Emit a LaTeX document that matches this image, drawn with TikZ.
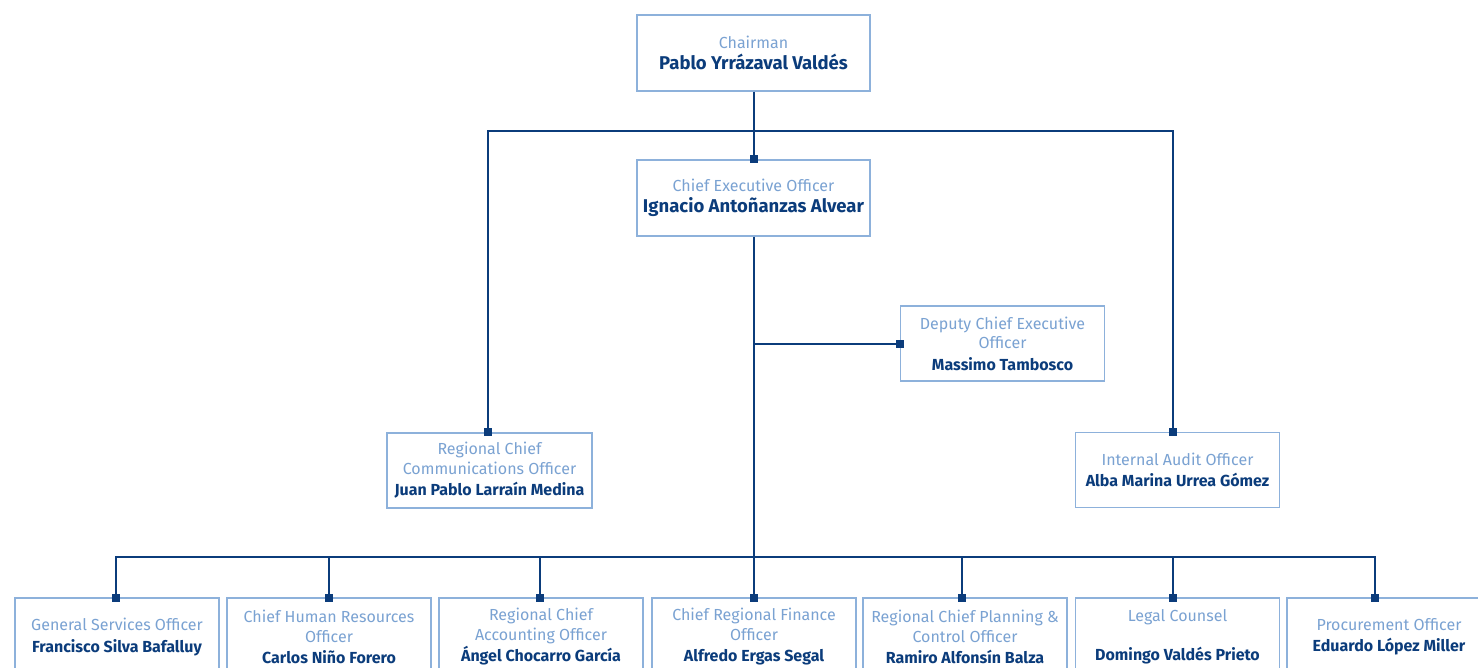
\documentclass[tikz,border=0pt]{standalone}
\usepackage{fontspec}
\setmainfont{Fira Sans}
\definecolor{navy}{HTML}{0B3C7B}
\definecolor{frame}{HTML}{8DB1DB}
\definecolor{rolecol}{HTML}{7AA2D2}
\newcommand{\rolefont}{\fontsize{16}{19.5}\selectfont\color{rolecol}}
% name lines: larger for the two top posts
\newcommand{\pname}[1]{\\[2pt]{\fontsize{16}{19.5}\selectfont\bfseries\color{navy}#1}}
\newcommand{\bigname}[1]{\\[2pt]{\fontsize{18.5}{21}\selectfont\bfseries\color{navy}#1}}
\tikzset{
  post/.style={draw=frame, line width=1.3pt, fill=white, align=center,
    inner sep=0pt, font=\rolefont},
  topbox/.style={post, minimum width=233pt, minimum height=76pt},
  midbox/.style={post, minimum width=204pt, minimum height=75pt},
  lowbox/.style={post, minimum width=204pt, minimum height=78pt},
  link/.style={draw=navy, line width=2pt},
  tab/.style={fill=navy, minimum size=8pt, inner sep=0pt, draw=none}
}
\begin{document}
\begin{tikzpicture}[x=1pt, y=-1pt]
\useasboundingbox (0,0) rectangle (1478,667);
\begin{scope}
\clip (0,0) rectangle (1478,667);

% board and executive
\node[topbox] (chair) at (753.5,53) {Chairman\bigname{Pablo Yrrázaval Valdés}};
\node[topbox] (ceo) at (753.5,198) {Chief Executive Officer\bigname{Ignacio Antoñanzas Alvear}};
\node[midbox] (deputy) at (1002.5,343.5) {Deputy Chief Executive\\Officer\pname{Massimo Tambosco}};
\node[midbox, minimum width=205pt] (comms) at (489.5,470.5) {Regional Chief\\Communications Officer\pname{Juan Pablo Larraín Medina}};
\node[midbox] (audit) at (1177.5,470) {Internal Audit Officer\pname{Alba Marina Urrea Gómez}};

% managers
\node[lowbox] (gso) at (117,637) {General Services Officer\pname{Francisco Silva Bafalluy}};
\node[lowbox] (hr) at (329,637) {Chief Human Resources\\Officer\pname{Carlos Niño Forero}};
\node[lowbox] (acc) at (541,637) {Regional Chief\\Accounting Officer\pname{Ángel Chocarro García}};
\node[lowbox] (fin) at (754,637) {Chief Regional Finance\\Officer\pname{Alfredo Ergas Segal}};
\node[lowbox] (plan) at (965,637) {Regional Chief Planning \&\\Control Officer\pname{Ramiro Alfonsín Balza}};
\node[lowbox] (legal) at (1177.5,637) {Legal Counsel\\[20pt]{\fontsize{16}{19.5}\selectfont\bfseries\color{navy}Domingo Valdés Prieto}};
\node[lowbox] (proc) at (1389,637) {Procurement Officer\pname{Eduardo López Miller}};

% attachment points on the upper edges
\coordinate (busL) at (488,131);
\coordinate (busR) at (1173,131);
\coordinate (split) at (ceo.south |- deputy.west);
\coordinate (low) at (fin.north |- 0,557);
\coordinate (tComms) at (busL |- comms.north);
\coordinate (tAudit) at (busR |- audit.north);
\coordinate (tGso) at (116,598);
\coordinate (tHr) at (329,598);
\coordinate (tAcc) at (540,598);
\coordinate (tFin) at (753.5,598);
\coordinate (tPlan) at (962,598);
\coordinate (tLegal) at (1173,598);
\coordinate (tProc) at (1375,598);

% connectors
\draw[link] (chair.south) -- (ceo.north);
\draw[link] (tComms) -- (busL) -- (busR) -- (tAudit);
\draw[link] (ceo.south) -- (tFin);
\draw[link] (split) -- (deputy.west);
\draw[link] (tGso) |- (low);
\draw[link] (tProc) |- (low);
\foreach \t in {tHr,tAcc,tPlan,tLegal}
  \draw[link] (\t) -- (\t |- low);

% junction tabs
\foreach \t in {ceo.north,deputy.west,tComms,tAudit,tGso,tHr,tAcc,tFin,tPlan,tLegal,tProc}
  \node[tab] at (\t) {};
\end{scope}
\end{tikzpicture}
\end{document}
